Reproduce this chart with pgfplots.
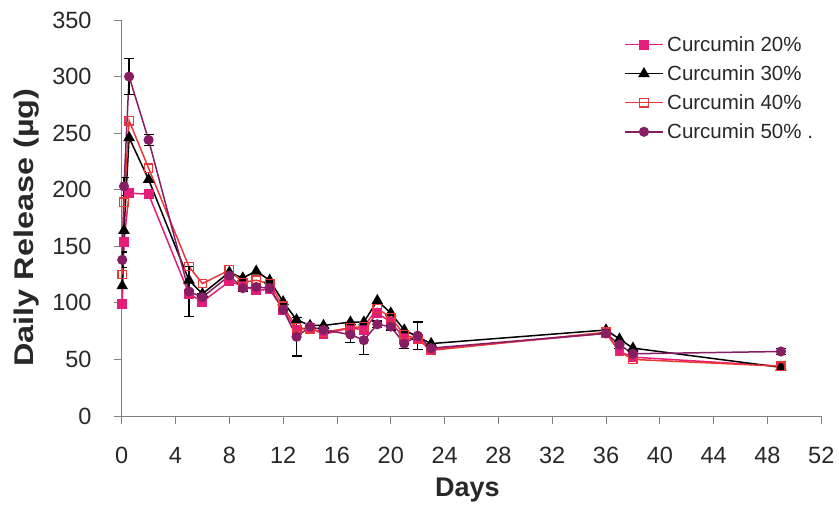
\documentclass[border=0pt]{standalone}
\usepackage{pgfplots}
\pgfplotsset{compat=1.18}
\usepackage{fontspec}
\setmainfont{Liberation Sans}
\definecolor{cpink}{RGB}{228,30,120}
\definecolor{cred}{RGB}{235,55,55}
\definecolor{cpurple}{RGB}{135,30,100}
\definecolor{cgray}{RGB}{128,128,128}
\definecolor{ctext}{RGB}{40,40,40}
\begin{document}
\begin{tikzpicture}
\begin{axis}[
  scale only axis, width=699.6pt, height=396pt,
  xmin=0, xmax=52, ymin=0, ymax=350,
  xtick={0,4,...,52}, ytick={0,50,...,350},
  axis x line*=bottom, axis y line*=left,
  axis line style={cgray, line width=0.9pt, -},
  tick align=outside, major tick length=8pt,
  tick style={cgray, line width=0.9pt},
  /pgf/number format/assume math mode=true,
  ticklabel style={font=\fontsize{23.5}{26}\selectfont, text=ctext, inner sep=0pt},
  xticklabel style={anchor=north, yshift=-23pt},
  yticklabel style={anchor=east, xshift=-22pt},
  xlabel={\bfseries Days},
  xlabel style={font=\fontsize{27}{30}\selectfont, text=ctext, at={(axis description cs:0.494,-0.2045)}, anchor=base},
  ylabel={\scalebox{1.2}[1]{\bfseries Daily Release (µg)}},
  ylabel style={font=\fontsize{27}{30}\selectfont, text=ctext, at={(axis description cs:-0.1365,0.476)}, anchor=center},
  legend style={draw=none, fill=none, font=\fontsize{20.5}{24}\selectfont, text=ctext,
    at={(axis description cs:0.718,0.964)}, anchor=north west, inner sep=0pt,
    row sep=8.7pt, nodes={inner sep=2pt},
    /tikz/every odd column/.append style={column sep=1.5pt}},
  legend cell align=left,
  legend image code/.code={\draw[mark repeat=2, mark phase=2, #1] plot coordinates {(0pt,0pt) (19pt,0pt) (38pt,0pt)};},
  every axis plot/.append style={line width=1.5pt},
  error bars/error bar style={black, line width=1.2pt},
  error bars/error mark options={black, rotate=90, mark size=5pt, line width=1.2pt},
]
% Curcumin 20%
\addplot[cpink, mark=square*, mark size=4.2pt, mark options={solid, fill=cpink}] coordinates {
(0.04,99) (0.17,154) (0.55,197) (2,196) (5,108) (6,101) (8,119) (9,115) (10,111) (11,112)
(12,94) (13,76) (14,78) (15,72) (17,78) (18,76) (19,91) (20,83) (21,69) (22,68) (23,59)
(36,73) (37,57) (38,52) (49,44)};
\addlegendentry{Curcumin 20\%}
% Curcumin 30%
\addplot[black, mark=triangle*, mark size=5.2pt, mark options={solid, fill=black}] coordinates {
(0.04,115) (0.17,164) (0.55,246) (2,209) (5,120) (6,108) (8,127) (9,122) (10,128) (11,120)
(12,101) (13,85) (14,80) (15,80) (17,83) (18,83) (19,102) (20,91) (21,76) (22,70) (23,64)
(36,76) (37,68) (38,60) (49,43)};
\addlegendentry{Curcumin 30\%}
% Curcumin 40%
\addplot[cred, mark=square, mark size=4.2pt, mark options={solid, fill=white, line width=1.3pt}] coordinates {
(0.04,125) (0.17,189) (0.55,261) (2,219) (5,132) (6,117) (8,129) (9,118) (10,120) (11,117)
(12,97) (13,78) (14,77) (15,74) (17,78) (18,79) (19,95) (20,87) (21,72) (22,68) (23,58)
(36,74) (37,57) (38,50) (49,44)};
\addlegendentry{Curcumin 40\%}
% Curcumin 50%
\addplot[cpurple, mark=*, mark size=4.3pt, mark options={solid, fill=cpurple},
  error bars/.cd, y dir=both, y explicit] coordinates {
(0.04,138) +- (0,7) (0.17,203) +- (0,8) (0.55,300) +- (0,16) (2,244) +- (0,5)
(5,110) +- (0,22) (6,105) +- (0,3) (8,124) +- (0,3) (9,113) +- (0,3) (10,114) +- (0,3)
(11,113) +- (0,3) (12,94) +- (0,2) (13,70) +- (0,17) (14,79) +- (0,3) (15,76) +- (0,2)
(17,72) +- (0,7) (18,67) +- (0,13) (19,81) +- (0,3) (20,79) +- (0,3) (21,64) +- (0,4)
(22,71) +- (0,12) (23,60) +- (0,2) (36,73) +- (0,2) (37,63) +- (0,3) (38,55) +- (0,2)
(49,57) +- (0,3)};
\addlegendentry{Curcumin 50\% .}
\end{axis}
\pgfresetboundingbox
\useasboundingbox (-121.7pt,-89pt) rectangle (717.3pt,416pt);
\end{tikzpicture}
\end{document}
